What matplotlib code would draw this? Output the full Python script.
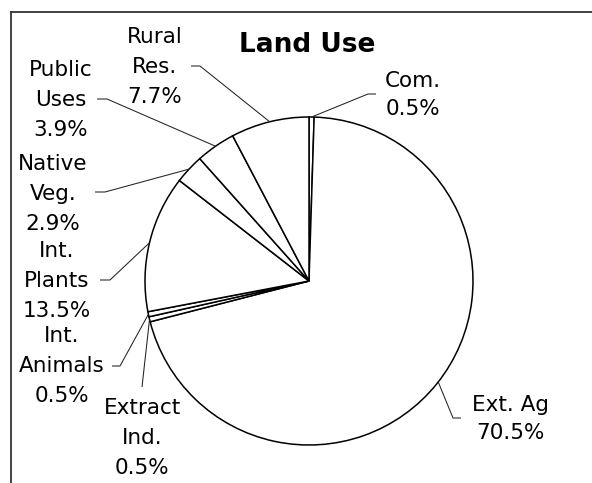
import numpy as np
import matplotlib
matplotlib.use("Agg")
import matplotlib.pyplot as plt
from matplotlib.lines import Line2D

# data (clockwise from 12 o'clock)
labels = ["Com.", "Ext. Ag", "Extract\nInd.", "Int.\nAnimals", "Int.\nPlants",
          "Native\nVeg.", "Public\nUses", "Rural\nRes."]
values = [0.5, 70.5, 0.5, 0.5, 13.5, 2.9, 3.9, 7.7]

W, H = 592, 483
cx, cy, R = 309, H - 281, 164

# label block centres and leader elbows (pixel coords, y from top)
lab_pos = [(413, 95), (510, 419), (142, 438), (62, 366), (57, 281),
           (53, 194), (61, 100), (155, 67)]
elbows = [[(368, 94), (376, 94)], [(453, 418), (461, 418)], [(142, 387)],
          [(120, 366), (112, 366)], [(110, 280), (100, 280)],
          [(105, 192), (95, 192)], [(107, 99), (97, 99)], [(200, 66), (191, 66)]]
spacing = [1.45, 1.45, 1.6, 1.6, 1.6, 1.6, 1.6, 1.6]
anchor_override = {1: -38.0}

fig = plt.figure(figsize=(W / 100, H / 100), dpi=100)
ax = fig.add_axes([0, 0, 1, 1])

wedges, _ = ax.pie(values, center=(cx, cy), radius=R, startangle=90, counterclock=False,
                   wedgeprops=dict(facecolor="white", edgecolor="black", linewidth=1.1))
ax.set_xlim(0, W)
ax.set_ylim(0, H)
ax.set_aspect("equal")
ax.axis("off")

for i, w in enumerate(wedges):
    ang = anchor_override.get(i, (w.theta1 + w.theta2) / 2)
    anchor = (cx + R * np.cos(np.radians(ang)), cy + R * np.sin(np.radians(ang)))
    pts = [anchor] + [(x, H - y) for x, y in elbows[i]]
    xs, ys = zip(*pts)
    ax.plot(xs, ys, color="#222222", lw=0.75, solid_capstyle="butt")
    txt = labels[i] + "\n" + f"{values[i]:.1f}%"
    lx, ly = lab_pos[i]
    ax.text(lx, H - ly, txt, ha="center", va="center", multialignment="center",
            fontsize=15.5, linespacing=spacing[i], color="black", family="DejaVu Sans")

ax.text(307, H - 45, "Land Use", ha="center", va="center", fontsize=19,
        fontweight="bold", family="DejaVu Sans")

# chart frame (only top and left visible)
fig.add_artist(Line2D([11 / W, 1.0], [1 - 12 / H, 1 - 12 / H], color="#333333", lw=1.3))
fig.add_artist(Line2D([11 / W, 11 / W], [0.0, 1 - 12 / H], color="#333333", lw=1.3))

fig.savefig("out.png", dpi=100)
